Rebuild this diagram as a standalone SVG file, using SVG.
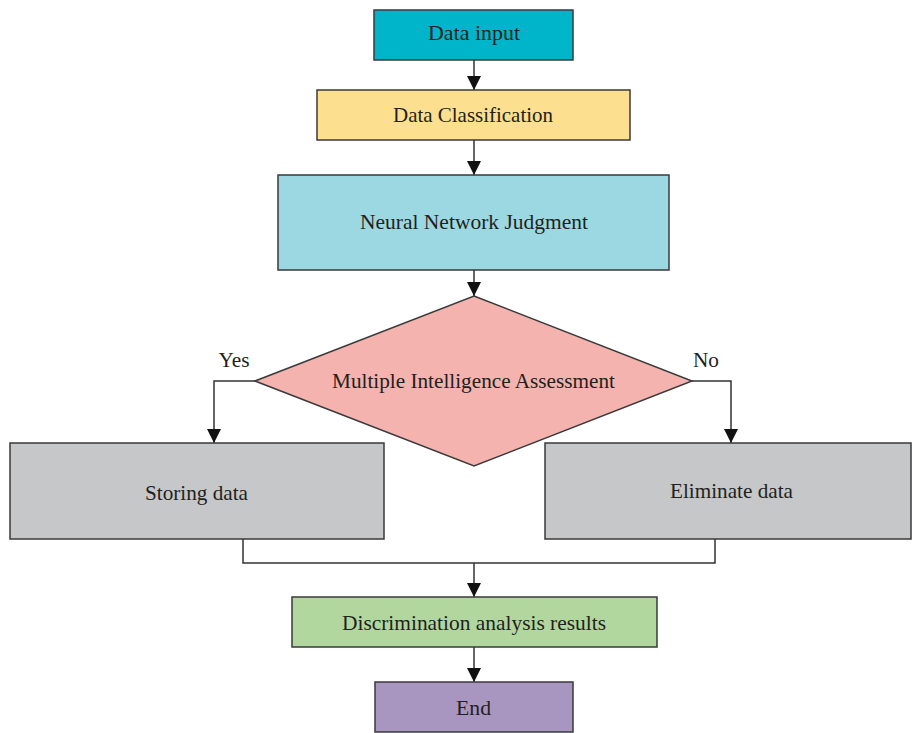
<svg xmlns="http://www.w3.org/2000/svg" width="912" height="733" viewBox="0 0 912 733">
  <style>
    .box { stroke: #3a3a3a; stroke-width: 1.5; }
    .lbl { font-family: "Liberation Serif", "DejaVu Serif", serif; font-size: 21px; fill: #231f20; text-anchor: middle; }
    .wire { fill: none; stroke: #333333; stroke-width: 1.5; }
  </style>
  <defs>
    <marker id="arrow" markerUnits="userSpaceOnUse" markerWidth="14" markerHeight="16" viewBox="0 0 14 16" refX="14" refY="7" orient="auto">
      <path d="M0,0 L14,7 L0,14 Z" fill="#111111"/>
    </marker>
  </defs>
  <rect width="912" height="733" fill="#ffffff"/>

  <g id="connectors">
    <line class="wire" x1="474" y1="60" x2="474" y2="90" marker-end="url(#arrow)"/>
    <line class="wire" x1="474" y1="140" x2="474" y2="175" marker-end="url(#arrow)"/>
    <line class="wire" x1="474" y1="270" x2="474" y2="296" marker-end="url(#arrow)"/>
    <polyline class="wire" points="255,381 214,381 214,443" marker-end="url(#arrow)"/>
    <polyline class="wire" points="692,381 731,381 731,443" marker-end="url(#arrow)"/>
    <polyline class="wire" points="243,539 243,563 715,563 715,539"/>
    <line class="wire" x1="474" y1="563" x2="474" y2="597" marker-end="url(#arrow)"/>
    <line class="wire" x1="474" y1="647" x2="474" y2="682" marker-end="url(#arrow)"/>
    <text class="lbl" x="234" y="367" textLength="31" lengthAdjust="spacingAndGlyphs">Yes</text>
    <text class="lbl" x="706" y="367" textLength="26" lengthAdjust="spacingAndGlyphs">No</text>
  </g>

  <g id="data-input">
    <rect class="box" x="374" y="10" width="199" height="50" fill="#00b5c9"/>
    <text class="lbl" x="474" y="40" textLength="92" lengthAdjust="spacingAndGlyphs">Data input</text>
  </g>

  <g id="data-classification">
    <rect class="box" x="317" y="90" width="313" height="50" fill="#fde08f"/>
    <text class="lbl" x="473" y="122" textLength="160" lengthAdjust="spacingAndGlyphs">Data Classification</text>
  </g>

  <g id="neural-network-judgment">
    <rect class="box" x="278" y="175" width="391" height="95" fill="#9bd8e2"/>
    <text class="lbl" x="474" y="229" textLength="228" lengthAdjust="spacingAndGlyphs">Neural Network Judgment</text>
  </g>

  <g id="assessment">
    <polygon class="box" points="474,296 692,381 474,466 255,381" fill="#f4b3ae"/>
    <text class="lbl" x="473.5" y="388" textLength="283" lengthAdjust="spacingAndGlyphs">Multiple Intelligence Assessment</text>
  </g>

  <g id="storing-data">
    <rect class="box" x="10" y="443" width="374" height="96" fill="#c6c7c9"/>
    <text class="lbl" x="196.5" y="500" textLength="103" lengthAdjust="spacingAndGlyphs">Storing data</text>
  </g>

  <g id="eliminate-data">
    <rect class="box" x="545" y="443" width="366" height="96" fill="#c6c7c9"/>
    <text class="lbl" x="731.5" y="498" textLength="123" lengthAdjust="spacingAndGlyphs">Eliminate data</text>
  </g>

  <g id="discrimination-results">
    <rect class="box" x="292" y="597" width="365" height="50" fill="#b1d79f"/>
    <text class="lbl" x="474" y="630" textLength="264" lengthAdjust="spacingAndGlyphs">Discrimination analysis results</text>
  </g>

  <g id="end">
    <rect class="box" x="375" y="682" width="198" height="50" fill="#a996c0"/>
    <text class="lbl" x="473.5" y="715" textLength="35" lengthAdjust="spacingAndGlyphs">End</text>
  </g>
</svg>
